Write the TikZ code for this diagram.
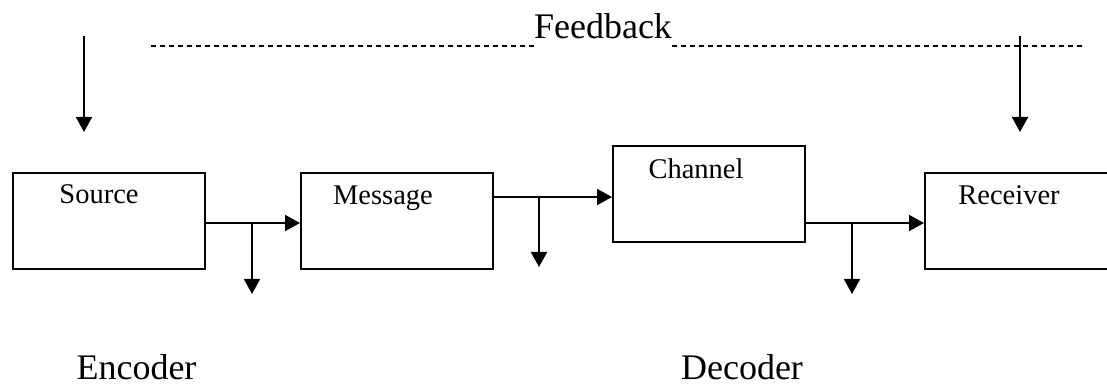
\documentclass[tikz,border=0pt]{standalone}
\usepackage{fontspec}
\setmainfont{Liberation Serif}
\usetikzlibrary{arrows.meta,calc}
\usetikzlibrary{positioning}
\tikzset{
  blk/.style={draw,line width=2pt,minimum width=192pt,minimum height=96pt,anchor=north west,inner sep=0pt},
  lbl/.style={font=\fontsize{28.5}{30}\selectfont,inner sep=0pt,anchor=base},
  big/.style={font=\fontsize{36}{40}\selectfont,inner sep=0pt,text depth=0pt,anchor=base},
  ln/.style={line width=2pt},
  dsh/.style={line width=2pt,dash pattern=on 5pt off 4pt}
}
\begin{document}
\begin{tikzpicture}[x=1pt,y=1pt,>={Triangle[length=15pt,width=16pt]}]
\useasboundingbox (0,0) rectangle (1107,390);
\clip (0,0) rectangle (1107,390);
\node[blk] (src) at (12,218) {};
\node[blk] (msg) at (300,218) {};
\node[blk] (chn) at (612,245) {};
\node[blk] (rcv) at (924,218) {};
\node[lbl] (srctxt) at (99,186) {Source};
\node[lbl] (msgtxt) at (383,185) {Message};
\node[lbl] (chntxt) at (696,211) {Channel};
\node[lbl] (rcvtxt) at (1009,185) {Receiver};
\node[big] (fb) at (603,351) {Feedback};
\node[big] (enc) at (136.5,10) {Encoder};
\node[big] (dec) at (742,10) {Decoder};
\coordinate (fbl) at (151,344);
\coordinate (fbr) at (1085,344);
\coordinate (inl) at (84,354);
\coordinate (inr) at (1020,354);
\coordinate (b1) at (252,167);
\coordinate (b2) at (539,193);
\coordinate (b3) at (852,167);
\coordinate (o1) at (252,96);
\coordinate (o2) at (539,123);
\coordinate (o3) at (852,96);
\draw[dsh] (fbl) -- (fbl -| fb.west);
\draw[dsh] (fbr -| fb.east) -- (fbr);
\draw[ln,->] (inl) -- ++(0,-96);
\draw[ln,->] (inr) -- ++(0,-96);
\draw[ln,->] (src.east |- b1) -- (msg.west |- b1);
\draw[ln,->] (msg.east |- b2) -- (chn.west |- b2);
\draw[ln,->] (chn.east |- b3) -- (rcv.west |- b3);
\draw[ln,->] (b1) -- (o1);
\draw[ln,->] (b2) -- (o2);
\draw[ln,->] (b3) -- (o3);
\end{tikzpicture}
\end{document}
